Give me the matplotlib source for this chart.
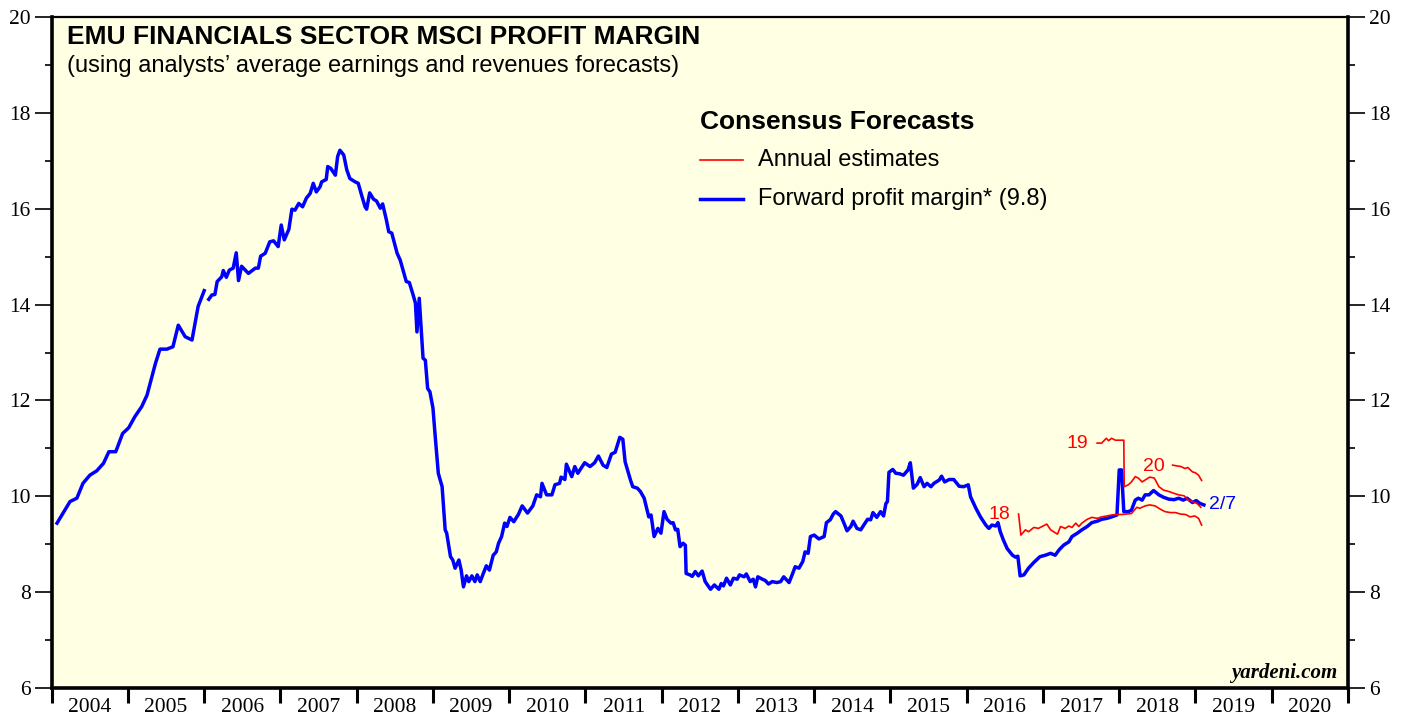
import numpy as np
import matplotlib
matplotlib.use("Agg")
import matplotlib.pyplot as plt

# forward profit margin (weekly-ish readings, nan marks the gap in early 2006)
fwd_dates = [
    2004.07, 2004.24, 2004.33, 2004.41, 2004.50, 2004.59, 2004.68, 2004.75, 2004.84, 2004.93,
    2005.01, 2005.09, 2005.18, 2005.25, 2005.36, 2005.42, 2005.51, 2005.59, 2005.66, 2005.75,
    2005.84, 2005.92, 2006.00, 2006.03, 2006.06, 2006.10, 2006.14, 2006.17, 2006.23, 2006.25,
    2006.29, 2006.33, 2006.38, 2006.42, 2006.45, 2006.49, 2006.58, 2006.67, 2006.71, 2006.74,
    2006.80, 2006.86, 2006.91, 2006.97, 2007.01, 2007.05, 2007.11, 2007.15, 2007.19, 2007.24,
    2007.29, 2007.34, 2007.39, 2007.43, 2007.47, 2007.52, 2007.54, 2007.60, 2007.62, 2007.66,
    2007.72, 2007.75, 2007.78, 2007.83, 2007.87, 2007.91, 2007.98, 2008.02, 2008.07, 2008.11,
    2008.13, 2008.17, 2008.22, 2008.26, 2008.31, 2008.34, 2008.39, 2008.42, 2008.46, 2008.53,
    2008.57, 2008.62, 2008.65, 2008.69, 2008.74, 2008.77, 2008.79, 2008.82, 2008.87, 2008.90,
    2008.93, 2008.96, 2009.00, 2009.03, 2009.07, 2009.12, 2009.16, 2009.18, 2009.23, 2009.26,
    2009.29, 2009.34, 2009.37, 2009.40, 2009.44, 2009.47, 2009.51, 2009.55, 2009.58, 2009.62,
    2009.66, 2009.70, 2009.74, 2009.79, 2009.83, 2009.86, 2009.90, 2009.94, 2009.97, 2010.01,
    2010.06, 2010.12, 2010.17, 2010.24, 2010.31, 2010.36, 2010.41, 2010.43, 2010.49, 2010.56,
    2010.60, 2010.66, 2010.68, 2010.73, 2010.75, 2010.82, 2010.86, 2010.90, 2010.94, 2010.99,
    2011.06, 2011.12, 2011.17, 2011.23, 2011.28, 2011.34, 2011.39, 2011.45, 2011.49, 2011.52,
    2011.59, 2011.62, 2011.68, 2011.72, 2011.77, 2011.83, 2011.86, 2011.90, 2011.95, 2011.99,
    2012.03, 2012.07, 2012.12, 2012.15, 2012.18, 2012.21, 2012.24, 2012.28, 2012.31, 2012.32,
    2012.37, 2012.40, 2012.44, 2012.48, 2012.53, 2012.57, 2012.64, 2012.69, 2012.75, 2012.78,
    2012.81, 2012.85, 2012.90, 2012.94, 2012.99, 2013.02, 2013.08, 2013.11, 2013.16, 2013.20,
    2013.23, 2013.26, 2013.32, 2013.36, 2013.40, 2013.45, 2013.51, 2013.56, 2013.60, 2013.67,
    2013.71, 2013.75, 2013.80, 2013.85, 2013.88, 2013.92, 2013.95, 2014.00, 2014.06, 2014.13,
    2014.16, 2014.21, 2014.25, 2014.28, 2014.35, 2014.39, 2014.43, 2014.48, 2014.51, 2014.56,
    2014.61, 2014.65, 2014.70, 2014.74, 2014.77, 2014.82, 2014.87, 2014.91, 2014.94, 2014.96,
    2014.98, 2015.03, 2015.07, 2015.12, 2015.17, 2015.23, 2015.26, 2015.30, 2015.35, 2015.39,
    2015.44, 2015.48, 2015.53, 2015.57, 2015.64, 2015.67, 2015.71, 2015.77, 2015.83, 2015.90,
    2015.96, 2016.02, 2016.05, 2016.12, 2016.18, 2016.25, 2016.29, 2016.33, 2016.38, 2016.41,
    2016.44, 2016.48, 2016.53, 2016.60, 2016.64, 2016.67, 2016.70, 2016.75, 2016.81, 2016.88,
    2016.96, 2017.03, 2017.10, 2017.16, 2017.21, 2017.27, 2017.34, 2017.38, 2017.45, 2017.51,
    2017.58, 2017.64, 2017.71, 2017.77, 2017.84, 2017.90, 2017.97, 2018.00, 2018.03, 2018.06,
    2018.12, 2018.16, 2018.21, 2018.25, 2018.30, 2018.34, 2018.39, 2018.45, 2018.52, 2018.58,
    2018.65, 2018.72, 2018.78, 2018.84, 2018.89, 2018.96, 2019.01, 2019.06, 2019.11,
]
fwd_values = [
    9.44, 9.89, 9.96, 10.27, 10.44, 10.53, 10.69, 10.93, 10.93, 11.31,
    11.43, 11.66, 11.87, 12.11, 12.77, 13.07, 13.07, 13.12, 13.57, 13.33,
    13.26, 13.96, 14.29, np.nan, 14.11, 14.20, 14.21, 14.48, 14.58, 14.71,
    14.57, 14.72, 14.76, 15.08, 14.50, 14.80, 14.65, 14.76, 14.76, 15.01,
    15.07, 15.31, 15.33, 15.21, 15.66, 15.35, 15.57, 15.99, 15.97, 16.11,
    16.04, 16.22, 16.32, 16.53, 16.35, 16.46, 16.56, 16.61, 16.88, 16.84,
    16.70, 17.09, 17.22, 17.12, 16.81, 16.63, 16.56, 16.53, 16.25, 16.04,
    15.99, 16.33, 16.20, 16.16, 16.01, 16.10, 15.76, 15.52, 15.49, 15.07,
    14.93, 14.65, 14.48, 14.46, 14.20, 14.03, 13.43, 14.13, 12.88, 12.84,
    12.25, 12.18, 11.84, 11.24, 10.48, 10.20, 9.30, 9.23, 8.74, 8.67,
    8.50, 8.67, 8.46, 8.11, 8.34, 8.22, 8.34, 8.22, 8.36, 8.22,
    8.39, 8.55, 8.46, 8.77, 8.84, 9.02, 9.16, 9.44, 9.37, 9.56,
    9.47, 9.62, 9.80, 9.65, 9.80, 10.03, 9.99, 10.27, 10.03, 10.03,
    10.24, 10.27, 10.40, 10.35, 10.67, 10.41, 10.62, 10.48, 10.58, 10.70,
    10.62, 10.70, 10.84, 10.65, 10.60, 10.88, 10.92, 11.23, 11.19, 10.72,
    10.34, 10.20, 10.17, 10.10, 9.96, 9.57, 9.61, 9.16, 9.33, 9.23,
    9.68, 9.52, 9.44, 9.45, 9.30, 9.31, 8.95, 9.02, 8.98, 8.39,
    8.36, 8.33, 8.43, 8.34, 8.44, 8.22, 8.06, 8.15, 8.06, 8.18,
    8.13, 8.29, 8.15, 8.29, 8.27, 8.36, 8.32, 8.38, 8.22, 8.27,
    8.11, 8.32, 8.27, 8.24, 8.17, 8.22, 8.20, 8.22, 8.32, 8.20,
    8.36, 8.53, 8.50, 8.64, 8.84, 8.81, 9.16, 9.19, 9.11, 9.16,
    9.45, 9.51, 9.63, 9.68, 9.59, 9.44, 9.28, 9.37, 9.48, 9.33,
    9.30, 9.40, 9.52, 9.51, 9.66, 9.56, 9.68, 9.59, 9.85, 9.89,
    10.50, 10.56, 10.48, 10.47, 10.44, 10.55, 10.70, 10.17, 10.25, 10.39,
    10.20, 10.27, 10.20, 10.27, 10.34, 10.42, 10.30, 10.35, 10.35, 10.21,
    10.20, 10.24, 9.99, 9.75, 9.57, 9.40, 9.33, 9.40, 9.38, 9.45,
    9.26, 9.09, 8.91, 8.77, 8.73, 8.75, 8.34, 8.36, 8.50, 8.62,
    8.74, 8.77, 8.81, 8.77, 8.88, 8.98, 9.05, 9.16, 9.23, 9.30,
    9.37, 9.45, 9.48, 9.52, 9.54, 9.57, 9.61, 10.55, 10.55, 9.68,
    9.68, 9.71, 9.92, 9.96, 9.92, 10.03, 10.03, 10.12, 10.03, 9.98,
    9.94, 9.93, 9.96, 9.92, 9.96, 9.87, 9.91, 9.85, 9.82,
]

# annual estimates (red)
est18_dates = [2016.68, 2016.71, 2016.77, 2016.81, 2016.88, 2016.94, 2017.00, 2017.05, 2017.10, 2017.14,
               2017.19, 2017.23, 2017.29, 2017.34, 2017.38, 2017.43, 2017.47, 2017.51, 2017.58, 2017.64,
               2017.71, 2017.77, 2017.84, 2017.90, 2017.97, 2018.03, 2018.10, 2018.16, 2018.23, 2018.27,
               2018.34, 2018.40, 2018.47, 2018.54, 2018.60, 2018.67, 2018.74, 2018.80, 2018.87, 2018.93,
               2018.99, 2019.04, 2019.08]
est18_values = [9.63, 9.19, 9.30, 9.26, 9.35, 9.33, 9.38, 9.42, 9.30, 9.26,
                9.21, 9.37, 9.33, 9.38, 9.35, 9.44, 9.37, 9.44, 9.52, 9.56,
                9.54, 9.57, 9.59, 9.61, 9.62, 9.62, 9.63, 9.64, 9.77, 9.75,
                9.80, 9.82, 9.80, 9.73, 9.68, 9.66, 9.66, 9.63, 9.62, 9.57,
                9.59, 9.54, 9.40]
est19_dates = [2017.71, 2017.77, 2017.83, 2017.86, 2017.90, 2017.95, 2018.06, 2018.065, 2018.12, 2018.16,
               2018.21, 2018.25, 2018.30, 2018.34, 2018.40, 2018.46, 2018.52, 2018.58, 2018.65, 2018.72,
               2018.78, 2018.85, 2018.91, 2018.96, 2019.02, 2019.07]
est19_values = [11.11, 11.11, 11.21, 11.16, 11.21, 11.17, 11.17, 10.20, 10.24, 10.30,
                10.41, 10.38, 10.30, 10.34, 10.40, 10.38, 10.20, 10.13, 10.10, 10.06,
                10.03, 10.01, 9.92, 9.89, 9.85, 9.77]
est20_dates = [2018.70, 2018.77, 2018.81, 2018.86, 2018.90, 2018.96, 2019.00, 2019.04, 2019.08]
est20_values = [10.65, 10.63, 10.62, 10.58, 10.60, 10.51, 10.49, 10.44, 10.33]

years = list(range(2004, 2021))
yticks_major = [6, 8, 10, 12, 14, 16, 18, 20]

BG = "#FFFFE3"
BLUE = "#0000FF"
RED = "#FF0000"
SANS = ["Liberation Sans", "DejaVu Sans"]
SERIF = ["Liberation Serif", "DejaVu Serif"]

fig = plt.figure(figsize=(14.07, 7.17), dpi=100)
ax = fig.add_axes([51.7 / 1407, 29 / 717, 1296.3 / 1407, 671 / 717])
ax.set_facecolor(BG)

ax.plot(fwd_dates, fwd_values, color=BLUE, lw=2.5, solid_joinstyle="round")
ax.plot(est18_dates, est18_values, color=RED, lw=1.2)
ax.plot(est19_dates, est19_values, color=RED, lw=1.2)
ax.plot(est20_dates, est20_values, color=RED, lw=1.2)

ax.set_xlim(2004, 2021)
ax.set_ylim(6, 20)

# year boundaries as ticks, labels in the middle of each year
ax.set_xticks([y for y in years] + [2021])
ax.set_xticklabels([])
ax.set_xticks([y + 0.5 for y in years], minor=True)
ax.set_xticklabels([str(y) for y in years], minor=True, fontsize=15.5, family=SERIF)
ax.tick_params(axis="x", which="major", direction="out", length=11, width=2.2)
ax.tick_params(axis="x", which="minor", length=0, pad=7)

ax.set_yticks(yticks_major)
ax.set_yticklabels([str(v) for v in yticks_major], fontsize=15.5, family=SERIF)
ax.set_yticks(range(7, 20, 2), minor=True)
ax.tick_params(axis="y", which="major", direction="out", length=12, width=1.2,
               left=True, right=True, labelleft=True, labelright=True, pad=3)
ax.tick_params(axis="y", which="minor", direction="out", length=5, width=1.2,
               left=True, right=True)

for side in ["left", "right", "bottom"]:
    ax.spines[side].set_linewidth(2.6)
ax.spines["top"].set_linewidth(1.6)

# titles
ax.text(0.0118, 0.970, "EMU FINANCIALS SECTOR MSCI PROFIT MARGIN", transform=ax.transAxes,
        fontsize=19, fontweight="bold", family=SANS, va="center", ha="left")
ax.text(0.0118, 0.927, "(using analysts\u2019 average earnings and revenues forecasts)",
        transform=ax.transAxes, fontsize=17, family=SANS, va="center", ha="left")

# legend drawn by hand
ax.text(0.500, 0.8435, "Consensus Forecasts", transform=ax.transAxes,
        fontsize=19, fontweight="bold", family=SANS, va="center", ha="left")
ax.plot([0.500, 0.533], [0.787, 0.787], transform=ax.transAxes, color=RED, lw=1.2)
ax.text(0.545, 0.787, "Annual estimates", transform=ax.transAxes,
        fontsize=17, family=SANS, va="center", ha="left")
ax.plot([0.500, 0.533], [0.729, 0.729], transform=ax.transAxes, color=BLUE, lw=2.5)
ax.text(0.545, 0.729, "Forward profit margin* (9.8)", transform=ax.transAxes,
        fontsize=17, family=SANS, va="center", ha="left")

# series labels
ax.text(2016.43, 9.63, "18", color=RED, fontsize=14, family=SANS, ha="center", va="center")
ax.text(2017.45, 11.11, "19", color=RED, fontsize=14, family=SANS, ha="center", va="center")
ax.text(2018.45, 10.63, "20", color=RED, fontsize=14, family=SANS, ha="center", va="center")
ax.text(2019.18, 9.82, "2/7", color=BLUE, fontsize=14, family=SANS, ha="left", va="center")

ax.text(0.9917, 0.022, "yardeni.com", transform=ax.transAxes, fontsize=15,
        fontweight="bold", fontstyle="italic", family=SERIF, ha="right", va="center")

fig.savefig("out.png", dpi=100, facecolor="white")
